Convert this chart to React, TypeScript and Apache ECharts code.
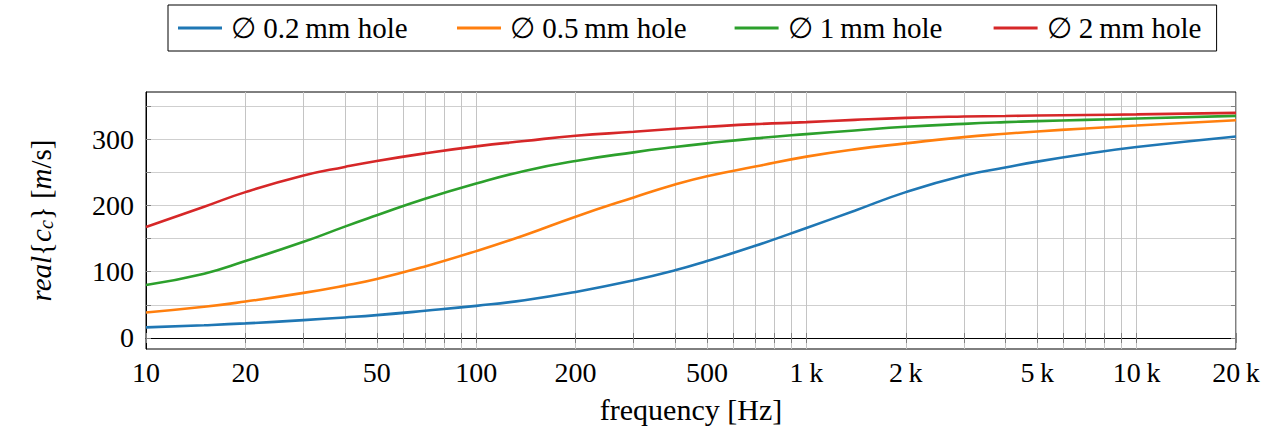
import { useEffect, useRef } from 'react';
import * as echarts from 'echarts';

// Sample frequencies (Hz) of the phase-velocity curves
const freqHz = [10, 15, 20, 30, 40, 50, 70, 100, 140, 200, 300, 400, 500, 700, 1000, 1400, 2000, 3000, 4000, 5000, 7000, 10000, 20000];

// Real part of the complex sound speed c_c in m/s, one list per hole diameter
const hole02 = [16, 19.2, 22, 27, 31, 34.5, 41, 48.5, 57, 69.5, 87, 102, 116, 139, 166, 192, 220, 245, 257, 266, 277.5, 288, 304];
const hole05 = [38.5, 47, 55, 68, 79, 89, 108, 131, 155, 183, 212, 231.5, 244, 258.5, 273.5, 284.5, 293.5, 303, 308, 311.5, 316, 320.5, 328.5];
const hole1 = [80, 97, 116, 145, 168, 185, 210, 233, 252, 267, 280, 288, 293.5, 301, 307.5, 313, 318.5, 323, 325.5, 327, 329, 331, 335];
const hole2 = [167.5, 198, 220, 245, 258, 267, 278.5, 289, 297, 305, 311, 315.5, 318.5, 322.5, 325.5, 329, 332, 334, 334.8, 335.5, 336.3, 337.3, 339.5];

const seriesNames = ['\u2205 0.2\u2009mm hole', '\u2205 0.5\u2009mm hole', '\u2205 1\u2009mm hole', '\u2205 2\u2009mm hole'];
const seriesColors = ['#1f77b4', '#ff7f0e', '#2ca02c', '#d62728'];
const legendTextWidths = [178, 176, 158, 155];

// Logarithmic frequency grid and labelled frequencies
const tickFreqs = [
  10, 20, 30, 40, 50, 60, 70, 80, 90,
  100, 200, 300, 400, 500, 600, 700, 800, 900,
  1000, 2000, 3000, 4000, 5000, 6000, 7000, 8000, 9000,
  10000, 20000,
];
const labelFreqs = [10, 20, 50, 100, 200, 500, 1000, 2000, 5000, 10000, 20000];
const labelTexts = ['10', '20', '50', '100', '200', '500', '1\u2009k', '2\u2009k', '5\u2009k', '10\u2009k', '20\u2009k'];

const yTicks = [0, 50, 100, 150, 200, 250, 300, 350];
const yLabels = [0, 100, 200, 300];
const yMin = -16.6;
const yMax = 371;

const FONT = "'Liberation Serif', serif";
const lg = (f: number) => Math.log10(f);
const xMin = lg(10);
const xMax = lg(20000);

function labelFor(v: number): string {
  let best = 0;
  let bestD = Infinity;
  labelFreqs.forEach((f, i) => {
    const d = Math.abs(lg(f) - v);
    if (d < bestD) {
      bestD = d;
      best = i;
    }
  });
  return bestD < 1e-6 ? labelTexts[best] : '';
}

export default function App() {
  const ref = useRef<HTMLDivElement>(null);

  useEffect(() => {
    if (!ref.current) return;
    const chart = echarts.init(ref.current, undefined, { renderer: 'svg' });
    const curves = [hole02, hole05, hole1, hole2];

    const tickStyle = { show: true, inside: true, length: 5, lineStyle: { color: '#808080', width: 1 } };

    chart.setOption({
      animation: false,
      backgroundColor: '#ffffff',
      textStyle: { fontFamily: FONT, color: '#000' },
      legend: {
        left: 168,
        top: 5,
        padding: [8, 15, 8, 10],
        borderColor: '#000',
        borderWidth: 1,
        itemWidth: 44,
        itemHeight: 3,
        itemGap: 48,
        icon: 'rect',
        textStyle: { fontFamily: FONT, fontSize: 29, color: '#000', lineHeight: 30 },
        data: seriesNames.map((name, i) => ({
          name,
          textStyle: { width: legendTextWidths[i], padding: [0, 0, 0, 4] },
        })),
      },
      grid: {
        left: 146,
        top: 92,
        width: 1090,
        height: 257,
        show: true,
        borderColor: '#000',
        borderWidth: 1,
        backgroundColor: 'transparent',
      },
      xAxis: [
        {
          type: 'value',
          min: xMin,
          max: xMax,
          name: 'frequency [Hz]',
          nameLocation: 'middle',
          nameGap: 45,
          nameTextStyle: { fontFamily: FONT, fontSize: 30, color: '#000' },
          axisLine: { show: true, lineStyle: { color: '#000', width: 1 } },
          axisTick: { ...tickStyle, customValues: tickFreqs.map(lg) },
          axisLabel: {
            customValues: labelFreqs.map(lg),
            formatter: (v: number) => labelFor(v),
            fontFamily: FONT,
            fontSize: 28,
            color: '#000',
            margin: 9,
          },
          splitLine: { show: true, lineStyle: { color: '#c4c4c4', width: 1 } },
        },
        {
          type: 'value',
          position: 'top',
          min: xMin,
          max: xMax,
          axisLine: { show: false },
          axisTick: { ...tickStyle, customValues: tickFreqs.map(lg) },
          axisLabel: { show: false },
          splitLine: { show: false },
        },
      ],
      yAxis: [
        {
          type: 'value',
          min: yMin,
          max: yMax,
          name: '{i|real}{b|{}{i|c}{s|c}} [{i|m}/{n|s}]',
          nameLocation: 'middle',
          nameRotate: 90,
          nameGap: 90,
          nameTextStyle: {
            fontFamily: FONT,
            fontSize: 29,
            color: '#000',
            rich: {
              i: { fontFamily: FONT, fontSize: 29, fontStyle: 'italic', color: '#000' },
              b: { fontFamily: FONT, fontSize: 29, color: '#000' },
              n: { fontFamily: FONT, fontSize: 29, color: '#000' },
              s: { fontFamily: FONT, fontSize: 20, fontStyle: 'italic', color: '#000', padding: [10, 0, 0, 0] },
            },
          },
          axisLine: { show: true, lineStyle: { color: '#000', width: 1 } },
          axisTick: { ...tickStyle, customValues: yTicks },
          axisLabel: {
            customValues: yLabels,
            fontFamily: FONT,
            fontSize: 28,
            color: '#000',
            margin: 12,
          },
          splitLine: { show: true, lineStyle: { color: '#cfcfcf', width: 1 } },
        },
        {
          type: 'value',
          position: 'right',
          min: yMin,
          max: yMax,
          axisLine: { show: false },
          axisTick: { ...tickStyle, customValues: yTicks },
          axisLabel: { show: false },
          splitLine: { show: false },
        },
      ],
      series: curves.map((vals, i) => ({
        name: seriesNames[i],
        type: 'line',
        xAxisIndex: 0,
        yAxisIndex: 0,
        data: freqHz.map((f, k) => [lg(f), vals[k]]),
        smooth: 0.5,
        showSymbol: false,
        symbol: 'none',
        clip: true,
        lineStyle: { color: seriesColors[i], width: 2.6 },
        itemStyle: { color: seriesColors[i] },
        z: 3,
      })),
    });

    return () => chart.dispose();
  }, []);

  return (
    <div
      ref={ref}
      style={{ position: 'absolute', left: 0, top: 0, width: 1273, height: 436 }}
    />
  );
}
